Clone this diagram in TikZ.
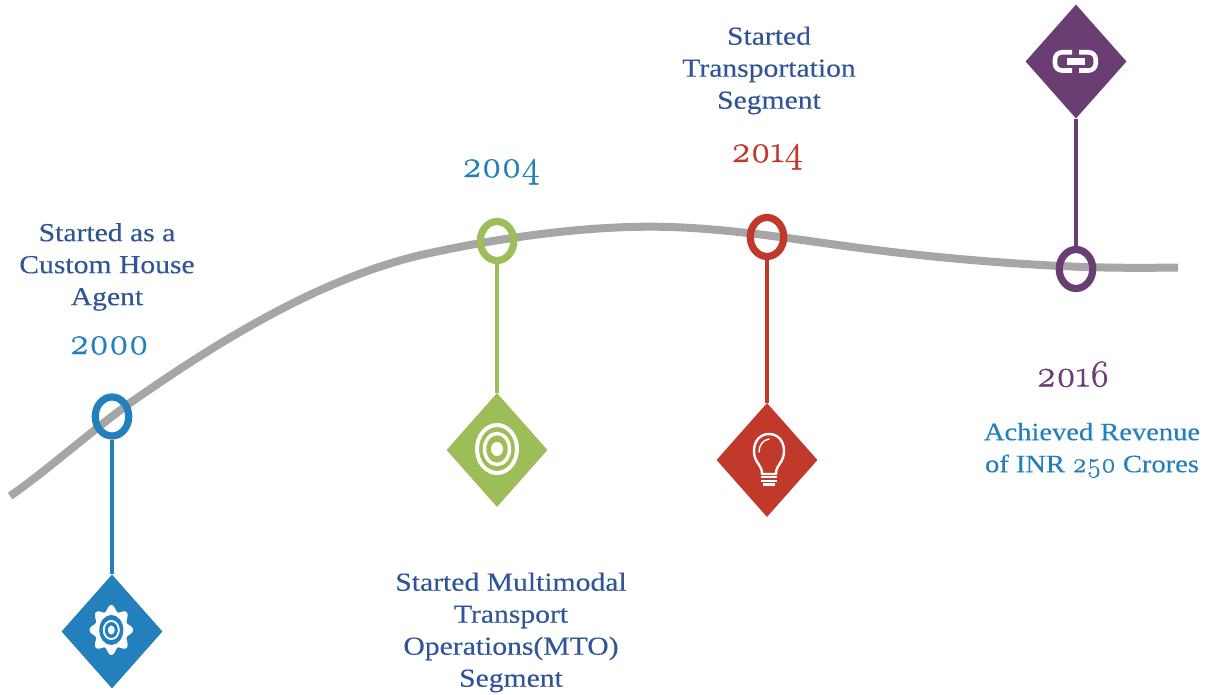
\documentclass[tikz,border=0pt]{standalone}
\usepackage{fontspec}
\usetikzlibrary{shapes.geometric}
\setmainfont[FakeStretch=1.14,FakeBold=0.25]{Liberation Serif}
\newfontfamily\yearfont[Numbers=OldStyle,FakeBold=0.9]{Latin Modern Roman}
\definecolor{cblue}{HTML}{2380BC}
\definecolor{cgreen}{HTML}{9DBD58}
\definecolor{cred}{HTML}{C0392B}
\definecolor{cpurple}{HTML}{6A3D73}
\definecolor{ctext}{HTML}{2F5597}
\definecolor{cgray}{HTML}{A6A6A6}
\tikzset{
  ring/.style={draw=#1,ellipse,line width=7.2pt,minimum width=33.5pt,minimum height=39pt,inner sep=0pt},
  gem/.style={diamond,fill=#1,draw=none,minimum width=101pt,minimum height=114pt,inner sep=0pt},
  stem/.style={draw=#1,line width=4.5pt},
  body/.style={text=#1,align=center,font=\fontsize{26}{32}\selectfont,inner sep=0pt},
  yearlabel/.style={text=#1,font=\fontsize{38}{38}\yearfont,inner sep=0pt,anchor=base},
}
\begin{document}
\begin{tikzpicture}[x=1pt,y=-1pt]
\useasboundingbox (0,0) rectangle (1215,695);
\draw[cgray,line width=8pt] (10,496) .. controls (40,476) and (90,432) .. (130,403)
  .. controls (227,335) and (324,278) .. (421,255)
  .. controls (497,238) and (580,226.7) .. (650,226.7)
  .. controls (715,226.7) and (780,237) .. (845,246)
  .. controls (922,256.5) and (1000,263.5) .. (1076,266.7)
  .. controls (1110,268) and (1145,268) .. (1178,267.5);
\node[ring=cblue] (r1) at (112,416.5) {};
\node[ring=cgreen] (r2) at (497,241) {};
\node[ring=cred] (r3) at (767,237) {};
\node[ring=cpurple] (r4) at (1076,269) {};
\node[gem=cblue] (d1) at (112,631.5) {};
\node[gem=cgreen] (d2) at (497,450) {};
\node[gem=cred] (d3) at (767,460) {};
\node[gem=cpurple] (d4) at (1076,61.5) {};
\draw[stem=cblue] (r1) -- (d1);
\draw[stem=cgreen] (r2) -- (d2);
\draw[stem=cred] (r3) -- (d3);
\draw[stem=cpurple] (r4) -- (d4);
% gear
\fill[white] plot[domain=0:360,samples=145,smooth] ({111.3+(19.2+2.6*cos(8*\x))*cos(\x)},{630+(22+3*cos(8*\x))*sin(\x)}) -- cycle;
\fill[cblue] (111.3,630) ellipse (12pt and 15pt);
\fill[white] (111.3,630) ellipse (8.5pt and 10pt);
\fill[cblue] (111.3,630) ellipse (6.5pt and 8pt);
\fill[white] (111.3,630) ellipse (3.5pt and 4.5pt);
% target
\draw[white,line width=4pt] (497,449) ellipse (20pt and 24pt);
\draw[white,line width=3.5pt] (497,449) ellipse (12.5pt and 15.5pt);
\fill[white] (497,449) ellipse (6pt and 7pt);
% bulb
\draw[white,line width=2.4pt,line join=round] (762,474) .. controls (762,464) and (754,463) .. (754,451) .. controls (754,440) and (761,434) .. (769,434) .. controls (777,434) and (784,440) .. (784,451) .. controls (784,463) and (776,464) .. (776,474) -- cycle;
\draw[white,line width=1.4pt,line cap=round] (759,452) .. controls (759,445) and (763,440) .. (769,439);
\draw[white,line width=2pt] (761,477) -- (777,477);
\draw[white,line width=2pt] (761,481) -- (777,481);
\fill[white] (763,483) rectangle (775,486);
% link
\draw[white,line width=4.6pt,rounded corners=7pt] (1072,52.3) -- (1055,52.3) -- (1055,70.5) -- (1072,70.5);
\draw[white,line width=4.6pt,rounded corners=7pt] (1079,52.3) -- (1095.7,52.3) -- (1095.7,70.5) -- (1079,70.5);
\fill[white] (1066.5,58.3) rectangle (1084.5,65);
% text
\node[body=ctext] (t1) at (107,267) {Started as a\\Custom House\\Agent};
\node[body=ctext] (t2) at (511,632.5) {Started Multimodal\\Transport\\Operations(MTO)\\Segment};
\node[body=ctext] (t3) at (769,70.5) {Started\\Transportation\\Segment};
\node[body=cblue,font=\fontsize{25}{32}\selectfont] (t4) at (1092,450.5) {Achieved Revenue\\of INR {\fontsize{28}{32}\yearfont 250} Crores};
\node[yearlabel=cblue] (y1) at (109,354) {2000};
\node[yearlabel=cblue] (y2) at (501,177) {2004};
\node[yearlabel=cred] (y3) at (767,162) {2014};
\node[yearlabel=cpurple] (y4) at (1073,386.5) {2016};
\end{tikzpicture}
\end{document}
